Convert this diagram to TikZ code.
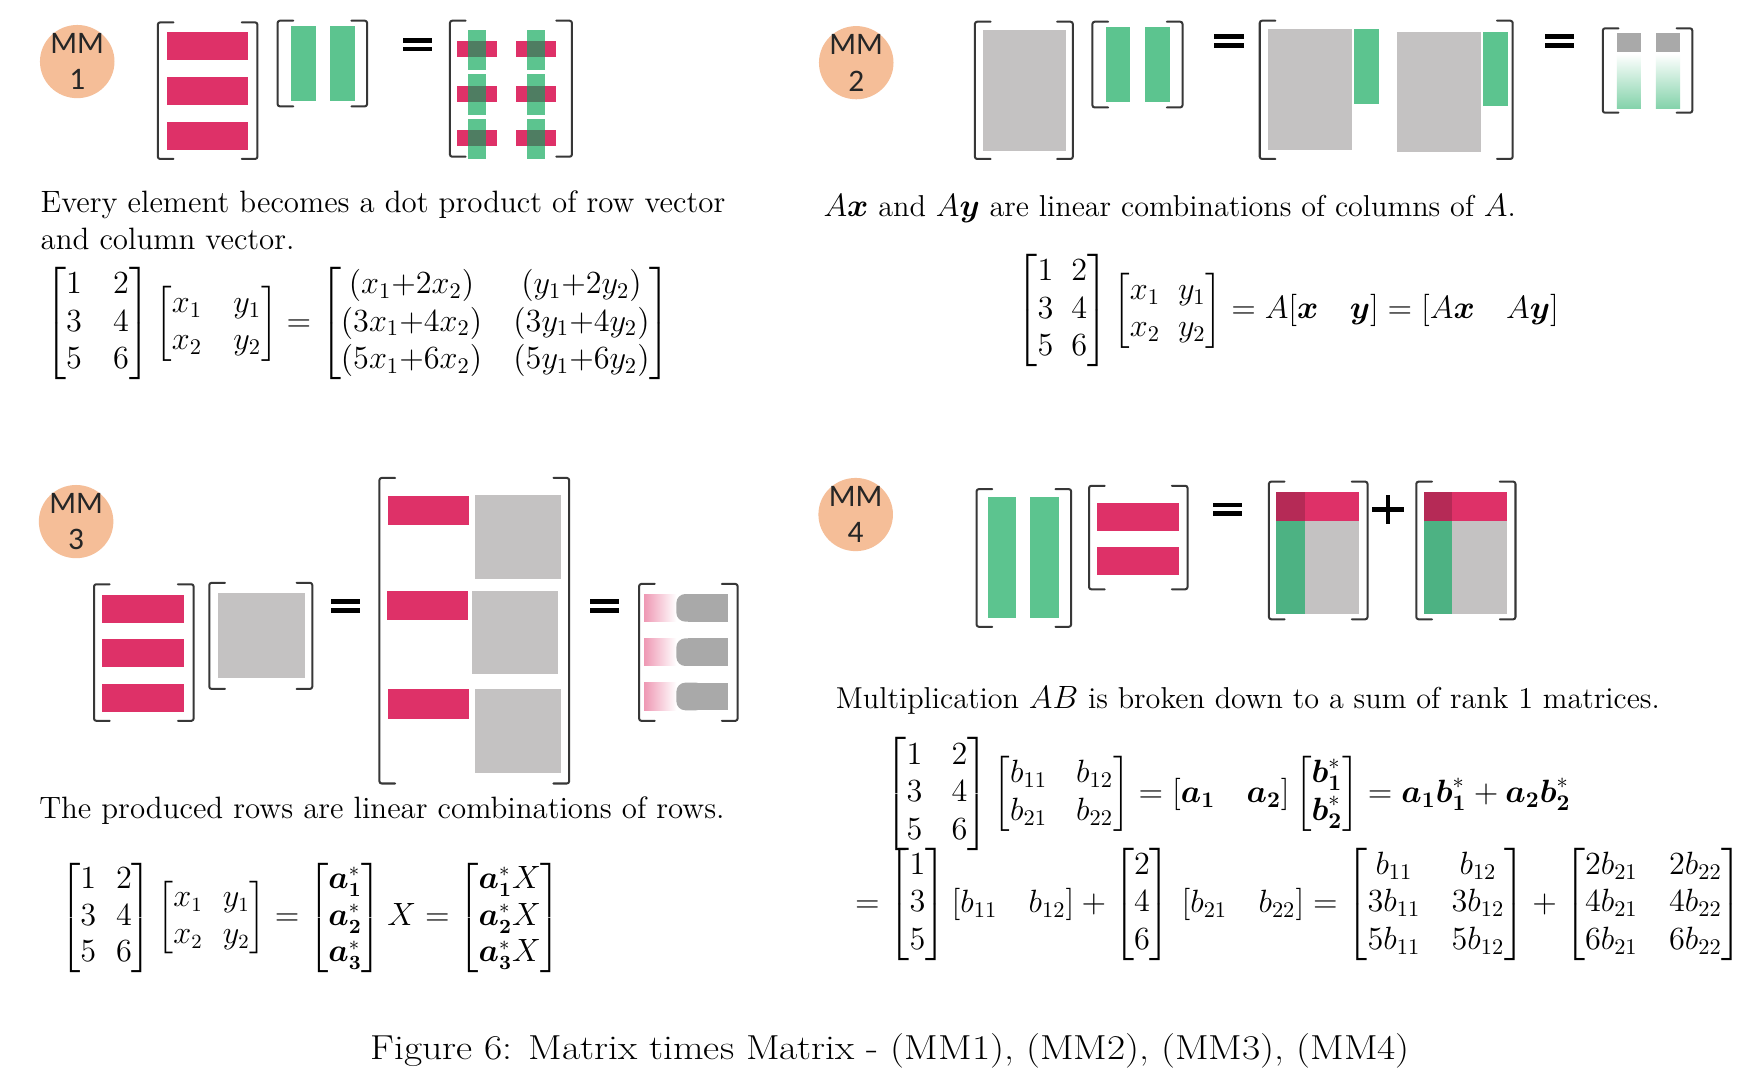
\documentclass[tikz,border=0pt]{standalone}
\usepackage{amsmath,amssymb}
\usepackage{fontspec}
\newfontfamily\badgefont{Carlito}
\usetikzlibrary{positioning,shapes.geometric}
\definecolor{mmpink}{RGB}{222,49,104}
\definecolor{mmgreen}{RGB}{92,196,143}
\definecolor{mmgray}{RGB}{196,194,194}
\definecolor{mmdgray}{RGB}{169,169,169}
\definecolor{mmdark}{RGB}{79,125,98}
\definecolor{mmpeach}{RGB}{245,190,152}
\definecolor{mmwine}{RGB}{181,42,86}
\definecolor{mmdgreen}{RGB}{77,178,131}
\definecolor{mmline}{RGB}{55,55,55}
\newcommand{\bv}[1]{\boldsymbol{#1}}
\newcommand{\bodysize}{\fontsize{13.8}{16.5}\selectfont}
\newcommand{\eqsize}{\fontsize{14}{16.8}\selectfont}
\newcommand{\drawbrackets}[4]{%
 \draw[brk] (#1+14,#2) -- (#1,#2) -- (#1,#4) -- (#1+14,#4);
 \draw[brk] (#3-14,#2) -- (#3,#2) -- (#3,#4) -- (#3-14,#4);}
\newcommand{\eqbars}[2]{%
 \fill (#1,#2-6) rectangle (#1+26,#2-1.7);
 \fill (#1,#2+1.7) rectangle (#1+26,#2+6);}
\newcommand{\plusbars}[2]{%
 \fill (#1-14,#2-2) rectangle (#1+14,#2+2);
 \fill (#1-2,#2-13) rectangle (#1+2,#2+13);}
\tikzset{
 brk/.style={draw=mmline,line width=0.9pt,line cap=round,rounded corners=1pt},
 badge/.style={ellipse,fill=mmpeach,minimum width=33.3pt,minimum height=32.7pt,
  inner sep=-5pt,align=center,text=black!85,font=\badgefont\fontsize{14}{16.4}\selectfont},
 bodytext/.style={anchor=base west,inner sep=0pt,font=\bodysize},
 eqnode/.style={anchor=west,inner sep=0pt,font=\eqsize},
}

\begin{document}
\begin{tikzpicture}[x=0.5pt,y=-0.5pt,line join=round]
 \fill[white] (0,0) rectangle (1568,965);
 \useasboundingbox (0,0) rectangle (1568,965);

 % MM1
 \node[badge] (badge1) at (69,55) {MM\\1};
 \drawbrackets{141}{20}{230}{142}
 \foreach \y in {29,69,109} \fill[mmpink] (149,\y) rectangle (222,\y+25);
 \drawbrackets{248}{18.5}{328}{95}
 \foreach \x in {260,295} \fill[mmgreen] (\x,23) rectangle (\x+22,90);
 \eqbars{360}{40}
 \drawbrackets{402}{18.5}{511}{140}
 \foreach \x in {408,461} \foreach \y in {37,77,116.5} {
  \fill[mmpink] (\x,\y) rectangle (\x+36,\y+14);
  \fill[mmgreen] (\x+10,\y-10.5) rectangle (\x+26,\y+25.5);
  \fill[mmdark] (\x+10,\y) rectangle (\x+26,\y+14);
 }
 \node[bodytext] (txt1a) at (36,189.7) {Every element becomes a dot product of row vector};
 \node[bodytext] (txt1b) at (36,222.7) {and column vector.};
 \node[eqnode] (eq1) at (40,289) {\setlength{\arraycolsep}{7pt}$\begin{bmatrix}1&2\\3&4\\5&6\end{bmatrix}
  \begin{bmatrix}x_1&y_1\\x_2&y_2\end{bmatrix}=
  \begin{bmatrix}(x_1{+}2x_2)&(y_1{+}2y_2)\\(3x_1{+}4x_2)&(3y_1{+}4y_2)\\(5x_1{+}6x_2)&(5y_1{+}6y_2)\end{bmatrix}$};

 % MM2
 \node[badge] (badge2) at (765,56) {MM\\2};
 \drawbrackets{871}{19.4}{958.5}{142}
 \fill[mmgray] (878,27) rectangle (952.5,134.5);
 \drawbrackets{976}{19.4}{1056.5}{96}
 \foreach \x in {988,1023} \fill[mmgreen] (\x,24.4) rectangle (\x+22,90.8);
 \eqbars{1085}{36.5}
 \drawbrackets{1125.5}{18.5}{1351.5}{142}
 \fill[mmgray] (1132.6,26) rectangle (1208.3,134);
 \fill[mmgreen] (1209.9,26) rectangle (1231.7,93);
 \fill[mmgray] (1248,28.3) rectangle (1323,136);
 \fill[mmgreen] (1325.2,28.3) rectangle (1347,94.7);
 \eqbars{1380}{36.5}
 \drawbrackets{1432}{25.3}{1512}{100.7}
 \foreach \x in {1444.5,1479.5} {
  \shade[top color=white,bottom color=mmgreen!75] (\x,48) rectangle (\x+21.5,96.5);
  \fill[mmdgray] (\x,29.2) rectangle (\x+21.5,46.5);
 }
 \node[bodytext,font=\fontsize{13.5}{16.5}\selectfont] (txt2) at (735.4,193.6) {$A\bv{x}$ and $A\bv{y}$ are linear combinations of columns of $A$.};
 \node[eqnode] (eq2) at (908,277.4) {\setlength{\arraycolsep}{4pt}$\begin{bmatrix}1&2\\3&4\\5&6\end{bmatrix}
  \begin{bmatrix}x_1&y_1\\x_2&y_2\end{bmatrix}=A[\bv{x}\quad\bv{y}]=[A\bv{x}\quad A\bv{y}]$};

 % MM3
 \node[badge] (badge3) at (68,466) {MM\\3};
 \drawbrackets{84}{522}{173}{644}
 \foreach \y in {531.5,571,611} \fill[mmpink] (91.5,\y) rectangle (164.5,\y+25);
 \drawbrackets{187}{520.7}{279}{615.5}
 \fill[mmgray] (195,530) rectangle (272.5,605.7);
 \eqbars{296}{541.5}
 \drawbrackets{339}{427}{508.5}{700}
 \fill[mmpink] (347,443.4) rectangle (419,469);
 \fill[mmgray] (424.5,442) rectangle (501,517.6);
 \fill[mmpink] (345.5,528) rectangle (418,554);
 \fill[mmgray] (421.7,528) rectangle (498.5,602.6);
 \fill[mmpink] (347,616) rectangle (419,642);
 \fill[mmgray] (424.5,616) rectangle (501,690.6);
 \eqbars{527}{541.5}
 \drawbrackets{571}{521.7}{659}{644}
 \foreach \y in {530.7,570.3,609.9} {
  \shade[left color=mmpink!50,right color=white] (575.5,\y) rectangle (604.3,\y+24.7);
  \fill[mmdgray,rounded corners=4pt] (604.3,\y) rectangle (630,\y+24.7);
  \fill[mmdgray] (615,\y) rectangle (650.3,\y+24.7);
 }
 \node[bodytext] (txt3) at (34.7,731.4) {The produced rows are linear combinations of rows.};
 \node[eqnode,font=\fontsize{13.5}{16.4}\selectfont] (eq3) at (53.3,820) {\setlength{\arraycolsep}{4.5pt}$\begin{bmatrix}1&2\\3&4\\5&6\end{bmatrix}
  \begin{bmatrix}x_1&y_1\\x_2&y_2\end{bmatrix}=
  \begin{bmatrix}\bv{a}_{\bv{1}}^*\\\bv{a}_{\bv{2}}^*\\\bv{a}_{\bv{3}}^*\end{bmatrix}X=
  \begin{bmatrix}\bv{a}_{\bv{1}}^*X\\\bv{a}_{\bv{2}}^*X\\\bv{a}_{\bv{3}}^*X\end{bmatrix}$};

 % MM4
 \node[badge] (badge4) at (764.5,459.7) {MM\\4};
 \drawbrackets{872.5}{437}{957}{560}
 \foreach \x in {882.4,920.4} \fill[mmgreen] (\x,444.3) rectangle (\x+25.5,552.4);
 \drawbrackets{973}{434}{1061}{526.5}
 \foreach \y in {449,488.4} \fill[mmpink] (980.3,\y) rectangle (1053.2,\y+25.3);
 \eqbars{1084}{455}
 \foreach \x/\w in {1133.7/1221.8,1265.4/1354} {
  \drawbrackets{\x}{430.3}{\w}{553.3}
  \fill[mmgray] (\x+6.6,439.3) rectangle (\w-7.6,548.6);
  \fill[mmpink] (\x+6.6,439.3) rectangle (\w-7.6,465.5);
  \fill[mmdgreen] (\x+6.6,465.5) rectangle (\x+31.8,548.6);
  \fill[mmwine] (\x+6.6,439.3) rectangle (\x+31.8,465.5);
 }
 \plusbars{1240}{455}
 \node[bodytext,font=\fontsize{13.5}{16.5}\selectfont] (txt4) at (746.3,632.8) {Multiplication $AB$ is broken down to a sum of rank 1 matrices.};
 \node[eqnode] (eq4a) at (791,709.5) {\setlength{\arraycolsep}{6.5pt}$\begin{bmatrix}1&2\\3&4\\5&6\end{bmatrix}
  \begin{bmatrix}b_{11}&b_{12}\\b_{21}&b_{22}\end{bmatrix}=[\bv{a}_{\bv{1}}\quad\bv{a}_{\bv{2}}]
  \begin{bmatrix}\bv{b}_{\bv{1}}^*\\\bv{b}_{\bv{2}}^*\end{bmatrix}=
  \bv{a}_{\bv{1}}\bv{b}_{\bv{1}}^*+\bv{a}_{\bv{2}}\bv{b}_{\bv{2}}^*$};
 \node[eqnode] (eq4b) at (763.7,808) {\setlength{\arraycolsep}{7pt}$=\begin{bmatrix}1\\3\\5\end{bmatrix}[b_{11}\quad b_{12}]+
  \begin{bmatrix}2\\4\\6\end{bmatrix}\,[b_{21}\quad b_{22}]=
  \begin{bmatrix}b_{11}&b_{12}\\3b_{11}&3b_{12}\\5b_{11}&5b_{12}\end{bmatrix}+
  \begin{bmatrix}2b_{21}&2b_{22}\\4b_{21}&4b_{22}\\6b_{21}&6b_{22}\end{bmatrix}$};

 \node[anchor=base,inner sep=0pt,font=\fontsize{15.5}{18}\selectfont] (caption) at (795.5,947)
  {\scalebox{1.14}[1]{Figure 6: Matrix times Matrix - (MM1), (MM2), (MM3), (MM4)}};
\end{tikzpicture}
\end{document}
